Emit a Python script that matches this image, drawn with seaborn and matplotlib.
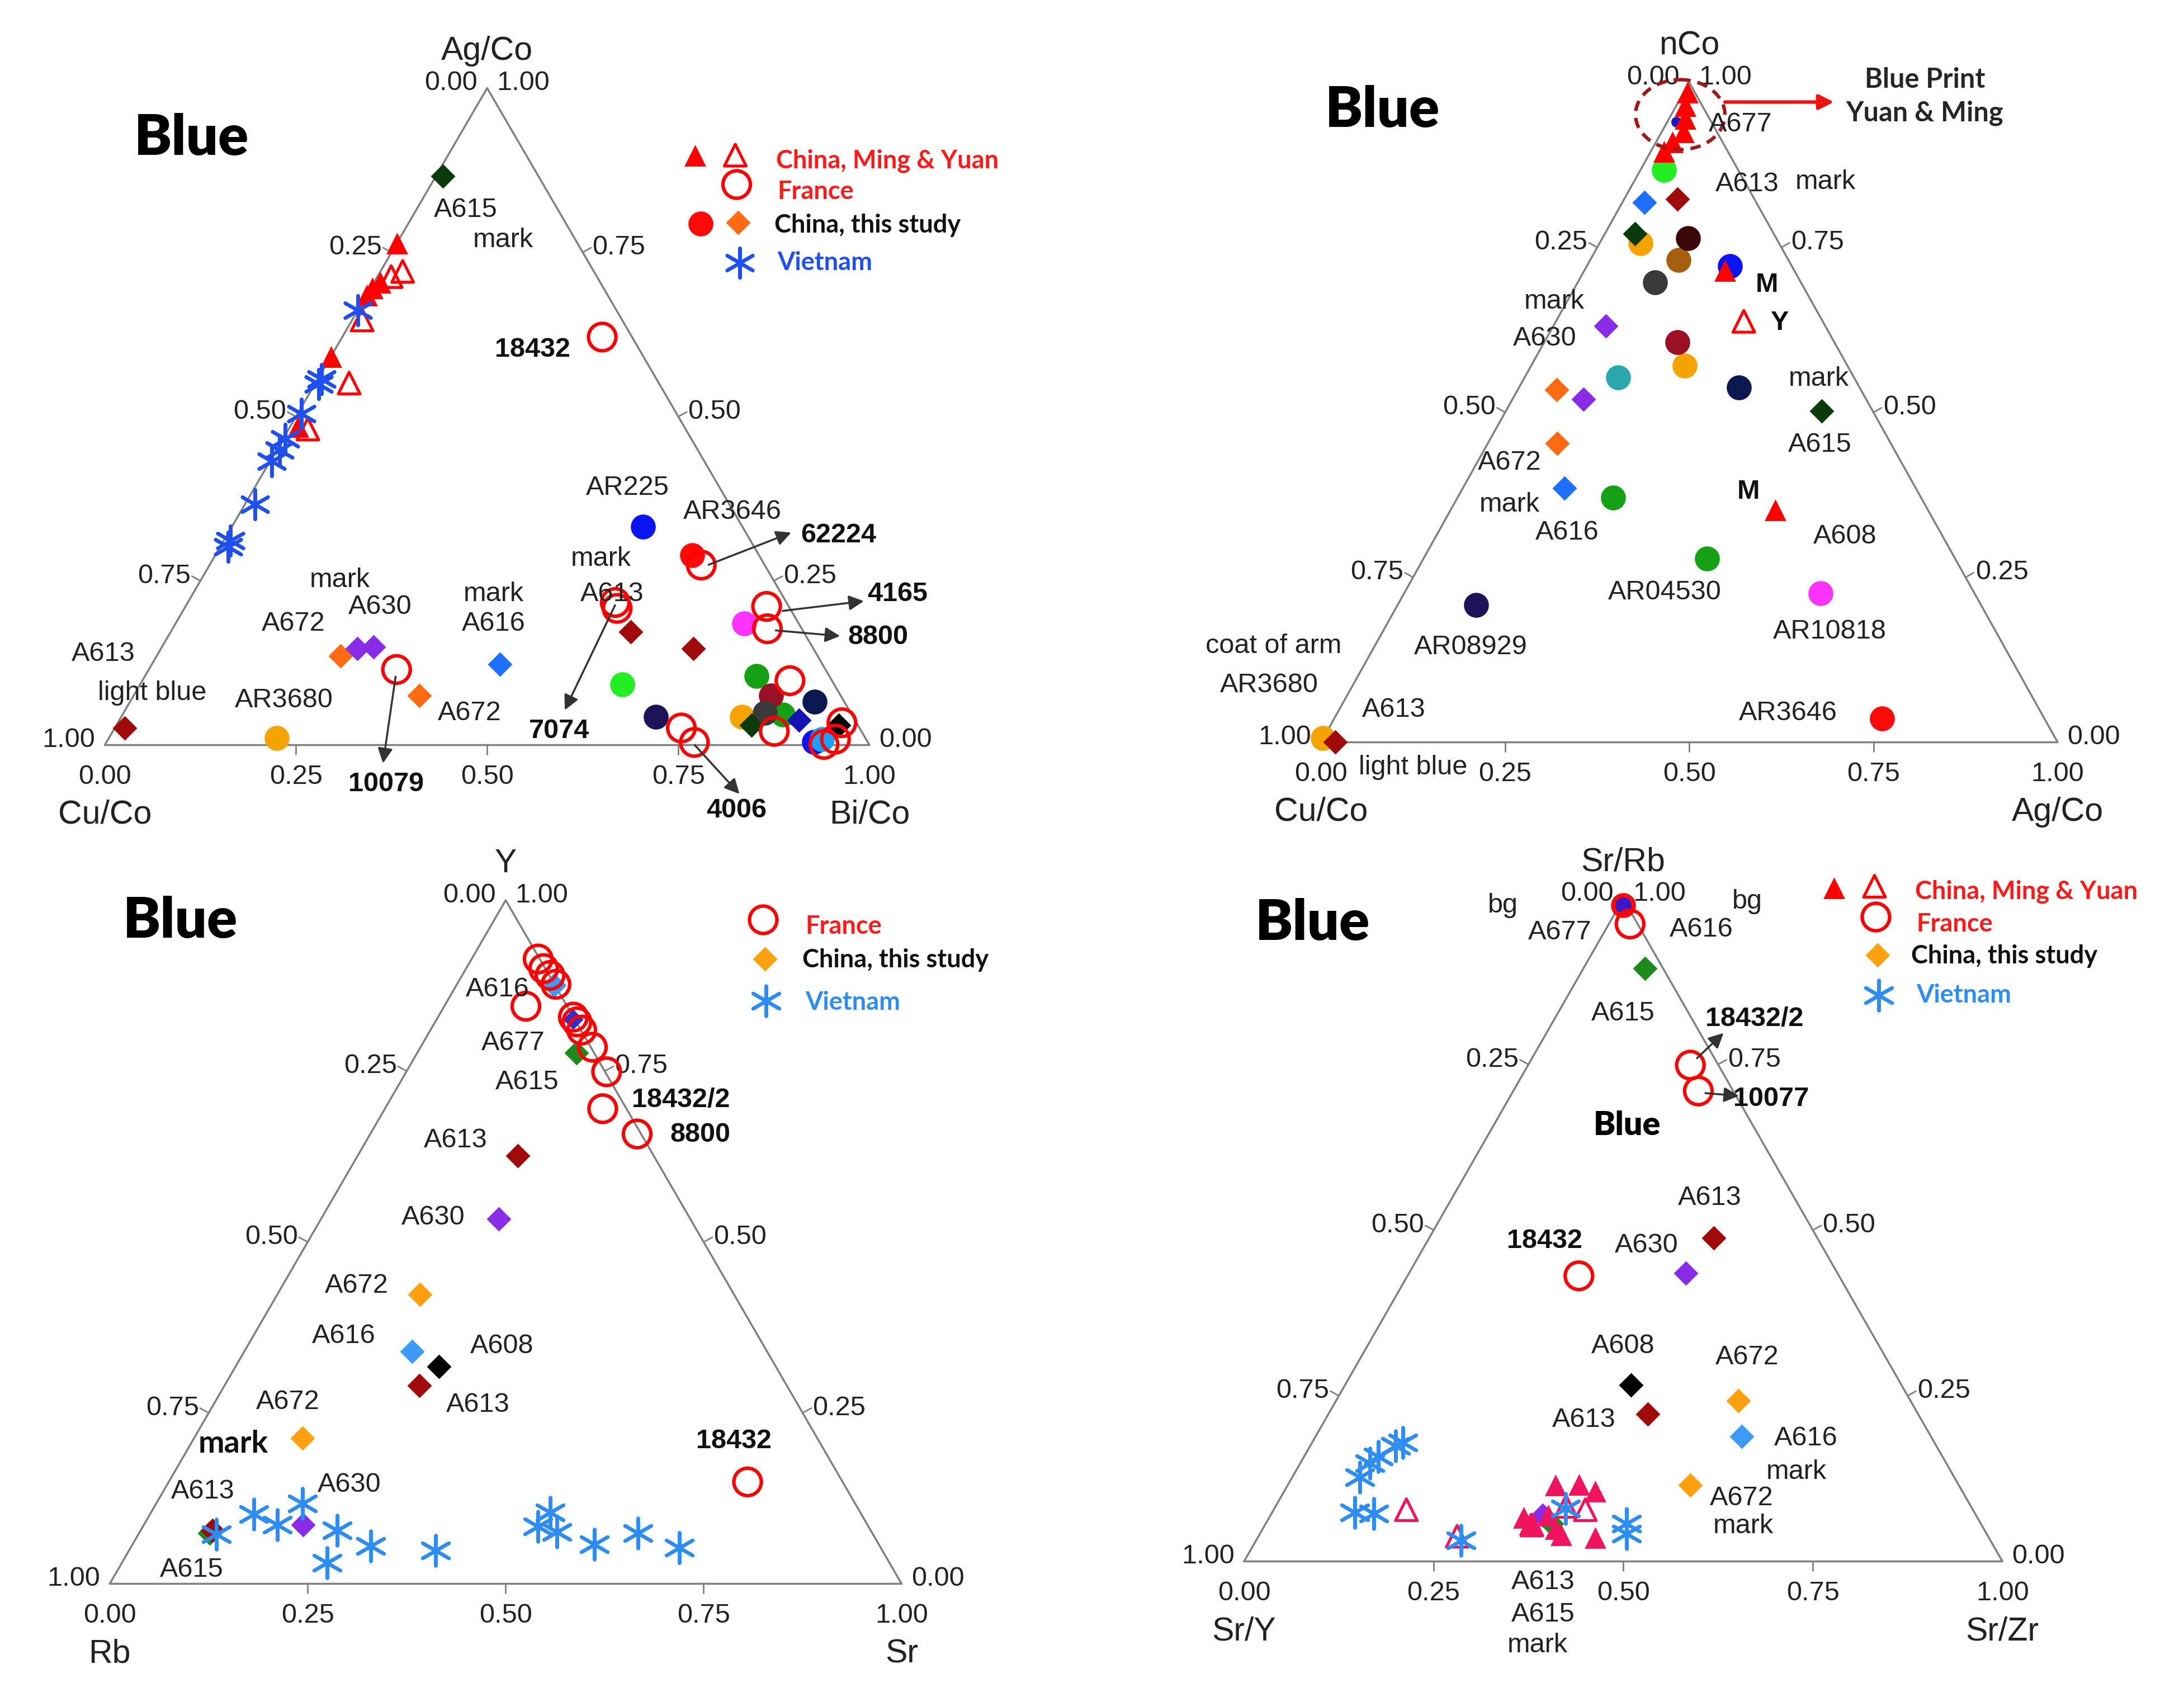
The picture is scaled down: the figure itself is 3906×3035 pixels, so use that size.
import numpy as np
import pandas as pd
import seaborn as sns
import matplotlib.pyplot as plt
from matplotlib.patches import Ellipse

sns.set_theme(style="white")
plt.rcParams['font.family'] = ['Liberation Sans', 'DejaVu Sans']

W, H = 1562.4, 1214.0      # reference canvas units (1 unit = 2.5 px of the output)
SQ3 = np.sqrt(3) / 2
CAL = ['Lato', 'DejaVu Sans']   # stands in for Calibri

# ---------------- data: fraction of the apex component (TOP) and of the
# lower-right component (RIGHT); the lower-left one is 1 - TOP - RIGHT
# panel 1 : Ag/Co (top), Cu/Co (left), Bi/Co (right)
P1_KIND = (['tri'] * 6 + ['tri_o'] * 5 + ['cB', 'cR', 'cM', 'cLG', 'cN2', 'cG', 'cG', 'cDR', 'cGy',
           'cO', 'cO', 'cN', 'cC', 'cB',
           'dG', 'dR', 'dR', 'dR', 'dO', 'dO', 'dP', 'dP', 'dB', 'dG', 'dN', 'dK'] +
           ['fr'] * 14 + ['vn'] * 10)
P1_TOP = [0.764, 0.704, 0.696, 0.685, 0.591, 0.485,
          0.721, 0.713, 0.647, 0.551, 0.481,
          0.332, 0.289, 0.185, 0.092, 0.043, 0.105, 0.046, 0.075, 0.049,
          0.043, 0.011, 0.066, 0.009, 0.005,
          0.866, 0.172, 0.147, 0.026, 0.136, 0.075, 0.147, 0.149, 0.123, 0.030, 0.038, 0.030,
          0.621, 0.274, 0.211, 0.177, 0.217, 0.208, 0.115, 0.026, 0.004, 0.098, 0.021, 0.009, 0.034, 0.001,
          0.662, 0.557, 0.549, 0.504, 0.466, 0.449, 0.432, 0.366, 0.311, 0.302]
P1_RIGHT = [0.000, 0.008, 0.002, 0.000, 0.000, 0.010,
            0.029, 0.018, 0.013, 0.044, 0.025,
            0.538, 0.624, 0.744, 0.631, 0.699, 0.800, 0.864, 0.834, 0.839,
            0.812, 0.219, 0.895, 0.933, 0.925,
            0.009, 0.602, 0.696, 0.013, 0.240, 0.374, 0.257, 0.277, 0.455, 0.831, 0.889, 0.945,
            0.340, 0.643, 0.760, 0.778, 0.559, 0.566, 0.324, 0.741, 0.769, 0.847, 0.865, 0.951, 0.947, 0.940,
            0.000, 0.005, 0.005, 0.005, 0.003, 0.004, 0.002, 0.013, 0.009, 0.010]

# panel 2 : nCo (top), Cu/Co (left), Ag/Co (right)
P2_KIND = ['cBt', 'cB', 'cLG', 'dB', 'dB', 'dR', 'dR', 'dG', 'dG', 'cO', 'cO', 'cO', 'cDB', 'cBr',
           'cGy', 'dP', 'dP', 'cDR', 'cT', 'cN', 'dO', 'dO', 'cG', 'cG', 'cM', 'cN2', 'cR',
           'tri', 'tri', 'tri', 'tri', 'tri', 'tri', 'tri', 'tri', 'tri_o']
P2_TOP = [0.940, 0.722, 0.867, 0.818, 0.385, 0.823, 0.000, 0.771, 0.502, 0.756, 0.571, 0.006, 0.764, 0.731,
          0.697, 0.631, 0.520, 0.606, 0.553, 0.538, 0.534, 0.453, 0.371, 0.278, 0.226, 0.208, 0.036,
          0.985, 0.965, 0.945, 0.925, 0.910, 0.895, 0.715, 0.352, 0.638]
P2_RIGHT = [0.012, 0.194, 0.032, 0.030, 0.138, 0.072, 0.019, 0.041, 0.429, 0.056, 0.208, 0.000, 0.116, 0.120,
            0.105, 0.071, 0.096, 0.181, 0.127, 0.298, 0.053, 0.094, 0.211, 0.385, 0.565, 0.107, 0.744,
            0.005, 0.012, 0.022, 0.030, 0.022, 0.018, 0.191, 0.441, 0.255]

# panel 3 : Y (top), Rb (left), Sr (right)
P3_KIND = (['dB2', 'dB2', 'dNB', 'dG2', 'dG2', 'dR', 'dR', 'dR', 'dP', 'dP', 'dO2', 'dO2', 'dK'] +
           ['fr'] * 13 + ['vn2'] * 14)
P3_TOP = [0.876, 0.340, 0.826, 0.777, 0.074, 0.626, 0.290, 0.078, 0.534, 0.086, 0.423, 0.213, 0.318,
          0.914, 0.900, 0.890, 0.877, 0.845, 0.829, 0.822, 0.810, 0.785, 0.749, 0.695, 0.658, 0.149,
          0.117, 0.102, 0.086, 0.078, 0.055, 0.031, 0.049, 0.104, 0.084, 0.076, 0.058, 0.074, 0.053, 0.072]
P3_RIGHT = [0.123, 0.212, 0.172, 0.201, 0.089, 0.202, 0.246, 0.091, 0.224, 0.201, 0.180, 0.137, 0.257,
            0.084, 0.098, 0.111, 0.125, 0.103, 0.171, 0.179, 0.191, 0.217, 0.253, 0.275, 0.337, 0.731,
            0.185, 0.131, 0.169, 0.248, 0.302, 0.259, 0.387, 0.504, 0.499, 0.527, 0.583, 0.630, 0.693, 0.099]

# panel 4 : Sr/Rb (top), Sr/Y (left), Sr/Zr (right)
P4_KIND = (['cR', 'cBs', 'dG2', 'dG2', 'dR', 'dR', 'dP', 'dP', 'dK', 'dO2', 'dO2', 'dB2'] +
           ['pk'] * 9 + ['pk_o'] * 5 + ['fr'] * 4 + ['vn2'] * 11)
P4_TOP = [0.990, 0.990, 0.895, 0.057, 0.488, 0.222, 0.435, 0.070, 0.266, 0.243, 0.115, 0.189,
          0.115, 0.116, 0.106, 0.066, 0.057, 0.049, 0.040, 0.036, 0.070,
          0.078, 0.038, 0.055, 0.083, 0.078,
          0.962, 0.749, 0.710, 0.431,
          0.179, 0.174, 0.158, 0.148, 0.127, 0.074, 0.072, 0.032, 0.057, 0.042, 0.080]
P4_RIGHT = [0.005, 0.005, 0.081, 0.377, 0.375, 0.421, 0.365, 0.359, 0.377, 0.530, 0.531, 0.562,
            0.353, 0.384, 0.410, 0.336, 0.348, 0.386, 0.398, 0.445, 0.366,
            0.175, 0.262, 0.352, 0.383, 0.411,
            0.028, 0.214, 0.244, 0.226,
            0.120, 0.113, 0.098, 0.092, 0.089, 0.109, 0.135, 0.270, 0.476, 0.483, 0.384]

# ---------------- marker styles (drawing order = dict order)
AST = (6, 2, 0)
SC, SD = 165, 80     # circle / diamond marker areas
STYLE = {
    'cO': dict(marker='o', color='#F5A300', s=SC),
    'cBt': dict(marker='o', color='#1818C0', s=30),
    'cB': dict(marker='o', color='#0A14F0', s=SC),
    'cR': dict(marker='o', color='#FF0A0A', s=SC),
    'cBs': dict(marker='o', color='#3A18C8', s=70),
    'cM': dict(marker='o', color='#FF33FF', s=SC),
    'cLG': dict(marker='o', color='#22EE22', s=SC),
    'cG': dict(marker='o', color='#16A016', s=SC),
    'cN': dict(marker='o', color='#0C1850', s=SC),
    'cN2': dict(marker='o', color='#1E1258', s=SC),
    'cDR': dict(marker='o', color='#9C1026', s=SC),
    'cGy': dict(marker='o', color='#3A3A3A', s=SC),
    'cBr': dict(marker='o', color='#A4600E', s=SC),
    'cDB': dict(marker='o', color='#3A0808', s=SC),
    'cT': dict(marker='o', color='#2AA7AA', s=SC),
    'cC': dict(marker='o', color='#1AA0FF', s=SC),
    'dG': dict(marker='D', color='#0B3A0B', s=SD),
    'dG2': dict(marker='D', color='#1E8A1E', s=SD),
    'dR': dict(marker='D', color='#A00A0A', s=SD),
    'dO': dict(marker='D', color='#FF6A12', s=SD),
    'dO2': dict(marker='D', color='#FFA010', s=SD),
    'dP': dict(marker='D', color='#8A2BE8', s=SD),
    'dB': dict(marker='D', color='#1E6EFF', s=SD),
    'dB2': dict(marker='D', color='#3D9BF5', s=SD),
    'dN': dict(marker='D', color='#1414B4', s=SD),
    'dNB': dict(marker='D', color='#3030C8', s=55),
    'dK': dict(marker='D', color='#000000', s=SD),
    'pk': dict(marker='^', color='#F0145F', s=125),
    'pk_o': dict(marker='^', color='#F0145F', s=125, open=True, lw=1.5),
    'tri': dict(marker='^', color='#FF0000', s=125),
    'tri_o': dict(marker='^', color='#FF0000', s=125, open=True, lw=1.5),
    'fr': dict(marker='o', color='#FF0000', s=200, open=True, lw=1.8),
    'vn': dict(marker=AST, color='#1F4FEF', s=230, lw=1.8),
    'vn2': dict(marker=AST, color='#2E8CF5', s=240, lw=1.8),
}


def style_kw(kind):
    st = STYLE[kind]
    kw = dict(marker=st['marker'], s=st['s'])
    if st.get('open'):
        kw.update(facecolor='none', edgecolor=st['color'], linewidth=st['lw'])
    elif st['marker'] == AST:
        kw.update(color=st['color'], linewidth=st['lw'])
    else:
        kw.update(color=st['color'], linewidth=0)
    return kw


def rect(xl, xr, yt, yb):
    return [xl / W, 1 - yb / H, (xr - xl) / W, (yb - yt) / H]


fig = plt.figure(figsize=(15.624, 12.14), dpi=250)


def ternary(box, kinds, top, right, names):
    ax = fig.add_axes(rect(*box))
    ax.set_xlim(0, 1)
    ax.set_ylim(0, SQ3)
    ax.axis('off')
    ax.plot([0, 1, 0.5, 0], [0, 0, SQ3, 0], color='#808080', lw=1.0, clip_on=False, zorder=1)
    for t in [0.25, 0.5, 0.75]:
        ax.plot([t, t], [0, -0.012], color='#808080', lw=0.8, clip_on=False)
        ax.plot([0.5 * t, 0.5 * t - 0.011], [SQ3 * t, SQ3 * t + 0.006], color='#808080', lw=0.8, clip_on=False)
        ax.plot([1 - 0.5 * t, 1 - 0.5 * t + 0.011], [SQ3 * t, SQ3 * t + 0.006], color='#808080', lw=0.8, clip_on=False)
    tk = dict(fontsize=14, color='#222222', textcoords='offset points', va='center', annotation_clip=False)
    for t in [0, 0.25, 0.5, 0.75, 1.0]:
        lab = f"{t:.2f}"
        ax.annotate(lab, (0.5 * (1 - t), SQ3 * (1 - t)), xytext=(-5, 2.5), ha='right', **tk)
        ax.annotate(lab, (1 - 0.5 * t, SQ3 * t), xytext=(5, 2.5), ha='left', **tk)
        ax.annotate(lab, (t, 0), xytext=(0, -16.5), ha='center', **tk)
    nk = dict(fontsize=17, color='#222222', textcoords='offset points', ha='center', va='center',
              annotation_clip=False)
    ax.annotate(names[0], (0.5, SQ3), xytext=(0, 19), **nk)
    ax.annotate(names[1], (0, 0), xytext=(0, -36), **nk)
    ax.annotate(names[2], (1, 0), xytext=(0, -36), **nk)

    df = pd.DataFrame({'kind': kinds, 'top': top, 'right': right})
    df['x'] = df['right'] + df['top'] / 2
    df['y'] = df['top'] * SQ3
    for k in STYLE:
        sub = df[df['kind'] == k]
        if sub.empty:
            continue
        sns.scatterplot(data=sub, x='x', y='y', ax=ax, legend=False, clip_on=False, zorder=3, **style_kw(k))
    return ax


ternary((75, 622, 63, 533), P1_KIND, P1_TOP, P1_RIGHT, ('Ag/Co', 'Cu/Co', 'Bi/Co'))
ternary((945, 1472, 59, 531), P2_KIND, P2_TOP, P2_RIGHT, ('nCo', 'Cu/Co', 'Ag/Co'))
ternary((78.5, 645, 644, 1133), P3_KIND, P3_TOP, P3_RIGHT, ('Y', 'Rb', 'Sr'))
ternary((890, 1432.5, 643, 1117), P4_KIND, P4_TOP, P4_RIGHT, ('Sr/Rb', 'Sr/Y', 'Sr/Zr'))

# ---------------- overlay in reference units for labels, arrows and legends
ov = fig.add_axes([0, 0, 1, 1])
ov.set_xlim(0, W)
ov.set_ylim(H, 0)
ov.axis('off')
ov.patch.set_alpha(0)

LABELS = [
    # panel 1
    ("A615", 333, 150, 0), ("mark", 360, 172, 0), ("18432", 381, 250, 1), ("AR225", 449, 349, 0),
    ("AR3646", 524, 366, 0), ("62224", 600, 383, 1), ("4165", 642, 425, 1), ("8800", 628, 456, 1),
    ("mark", 430, 400, 0), ("A613", 438, 425, 0), ("mark", 243, 415, 0), ("A630", 272, 434, 0),
    ("A672", 210, 446, 0), ("mark", 353, 425, 0), ("A616", 353, 446, 0), ("A613", 74, 468, 0),
    ("light blue", 109, 496, 0), ("AR3680", 203, 501, 0), ("A672", 336, 510, 0), ("7074", 400, 523, 1),
    ("10079", 276, 561, 1), ("4006", 527, 580, 1),
    # panel 2
    ("A677", 1245, 89, 0), ("A613", 1250, 132, 0), ("mark", 1306, 130, 0), ("M", 1264, 204, 1),
    ("Y", 1273, 231, 1), ("mark", 1112, 216, 0), ("A630", 1105, 242, 0), ("mark", 1301, 271, 0),
    ("A615", 1302, 318, 0), ("A672", 1080, 331, 0), ("mark", 1080, 361, 0), ("A616", 1121, 381, 0),
    ("M", 1251, 352, 1), ("A608", 1320, 384, 0), ("AR04530", 1191, 424, 0), ("AR10818", 1309, 452, 0),
    ("AR08929", 1052, 463, 0), ("coat of arm", 911, 462, 0), ("AR3680", 908, 490, 0), ("A613", 997, 508, 0),
    ("light blue", 1011, 549, 0), ("AR3646", 1279, 510, 0),
    # panel 3
    ("A616", 356, 708, 0), ("A677", 367, 746, 0), ("A615", 377, 774, 0), ("18432/2", 487, 787, 1),
    ("8800", 501, 812, 1), ("A613", 326, 816, 0), ("A630", 310, 871, 0), ("A672", 255, 920, 0),
    ("A616", 246, 956, 0), ("A608", 359, 963, 0), ("A613", 342, 1005, 0), ("A672", 206, 1003, 0),
    ("mark", 167, 1033, 2), ("18432", 525, 1031, 1), ("A613", 145, 1067, 0), ("A630", 250, 1062, 0),
    ("A615", 137, 1123, 0),
    # panel 4
    ("bg", 1075, 648, 0), ("bg", 1250, 645, 0), ("A677", 1116, 667, 0), ("A616", 1217, 665, 0),
    ("A615", 1161, 725, 0), ("18432/2", 1255, 729, 1), ("10077", 1267, 786, 1), ("A613", 1223, 857, 0),
    ("18432", 1105, 888, 1), ("A630", 1178, 891, 0), ("A608", 1161, 963, 0), ("A672", 1250, 971, 0),
    ("A613", 1133, 1016, 0), ("A616", 1292, 1029, 0), ("mark", 1285, 1053, 0), ("A672", 1246, 1072, 0),
    ("mark", 1247, 1092, 0), ("A613", 1104, 1132, 0), ("A615", 1104, 1155, 0), ("mark", 1100, 1177, 0),
]
for s, x, y, b in LABELS:
    if b == 2:
        ov.text(x, y, s, fontsize=16, fontweight='bold', family=CAL, ha='center', va='center', color='#111111')
    else:
        ov.text(x, y, s, fontsize=14, fontweight='bold' if b else 'normal', ha='center', va='center',
                color='#111111' if b else '#222222')

for x, y in [(137, 99), (989, 79), (129, 659), (939, 661)]:
    ov.text(x, y, "Blue", fontsize=29, fontweight='heavy', family=CAL, ha='center', va='center', color='black')
ov.text(1164, 805, "Blue", fontsize=17, fontweight='heavy', family=CAL, ha='center', va='center', color='black')
ov.text(1377, 57, "Blue Print", fontsize=14, fontweight='bold', family=CAL, ha='center', va='center')
ov.text(1377, 81, "Yuan & Ming", fontsize=14, fontweight='bold', family=CAL, ha='center', va='center')

ARROWS = [((507, 404), (566, 381)), ((560, 437), (618, 430)), ((555, 451), (601, 455)),
          ((440, 433), (404, 508)), ((283, 484), (274, 546)), ((497, 533), (529, 568)),
          ((1214, 757), (1233, 739)), ((1220, 782), (1244, 784))]
for (x0, y0), (x1, y1) in ARROWS:
    ov.annotate('', xy=(x1, y1), xytext=(x0, y0),
                arrowprops=dict(arrowstyle='-|>', color='#333333', lw=1.0, mutation_scale=16,
                                shrinkA=0, shrinkB=0))
ov.annotate('', xy=(1312, 73), xytext=(1234, 73),
            arrowprops=dict(arrowstyle='-|>', color='#EE1111', lw=1.8, mutation_scale=16, shrinkA=0, shrinkB=0))
ov.add_patch(Ellipse((1202, 82), 64, 50, fill=False, ls=(0, (3, 2)), ec='#A01A1A', lw=1.8))

# legends
LEGENDS = [
    ([('tri', 497, 111), ('tri_o', 526, 111), ('fr', 527, 132), ('cR', 501, 160), ('dO', 528, 159),
      ('vn', 529, 188)],
     [("China, Ming & Yuan", 555, 115, '#FF1A1A'), ("France", 556, 137, '#FF1A1A'),
      ("China, this study", 554, 161, '#111111'), ("Vietnam", 556, 188, '#1F4FEF')]),
    ([('fr', 546, 658), ('dO2', 547, 686), ('vn2', 548, 716)],
     [("France", 576, 663, '#FF1A1A'), ("China, this study", 574, 687, '#111111'),
      ("Vietnam", 576, 717, '#2E8CF5')]),
    ([('tri', 1312, 635), ('tri_o', 1341, 634), ('fr', 1342, 656), ('dO2', 1343, 683), ('vn2', 1344, 712)],
     [("China, Ming & Yuan", 1370, 638, '#FF1A1A'), ("France", 1371, 661, '#FF1A1A'),
      ("China, this study", 1367, 684, '#111111'), ("Vietnam", 1371, 712, '#2E8CF5')]),
]
for glyphs, texts in LEGENDS:
    for k, x, y in glyphs:
        ov.scatter([x], [y], clip_on=False, **style_kw(k))
    for s, x, y, c in texts:
        ov.text(x, y, s, fontsize=13, fontweight='bold', family=CAL, ha='left', va='center', color=c)

fig.savefig("out.png", dpi=250)
